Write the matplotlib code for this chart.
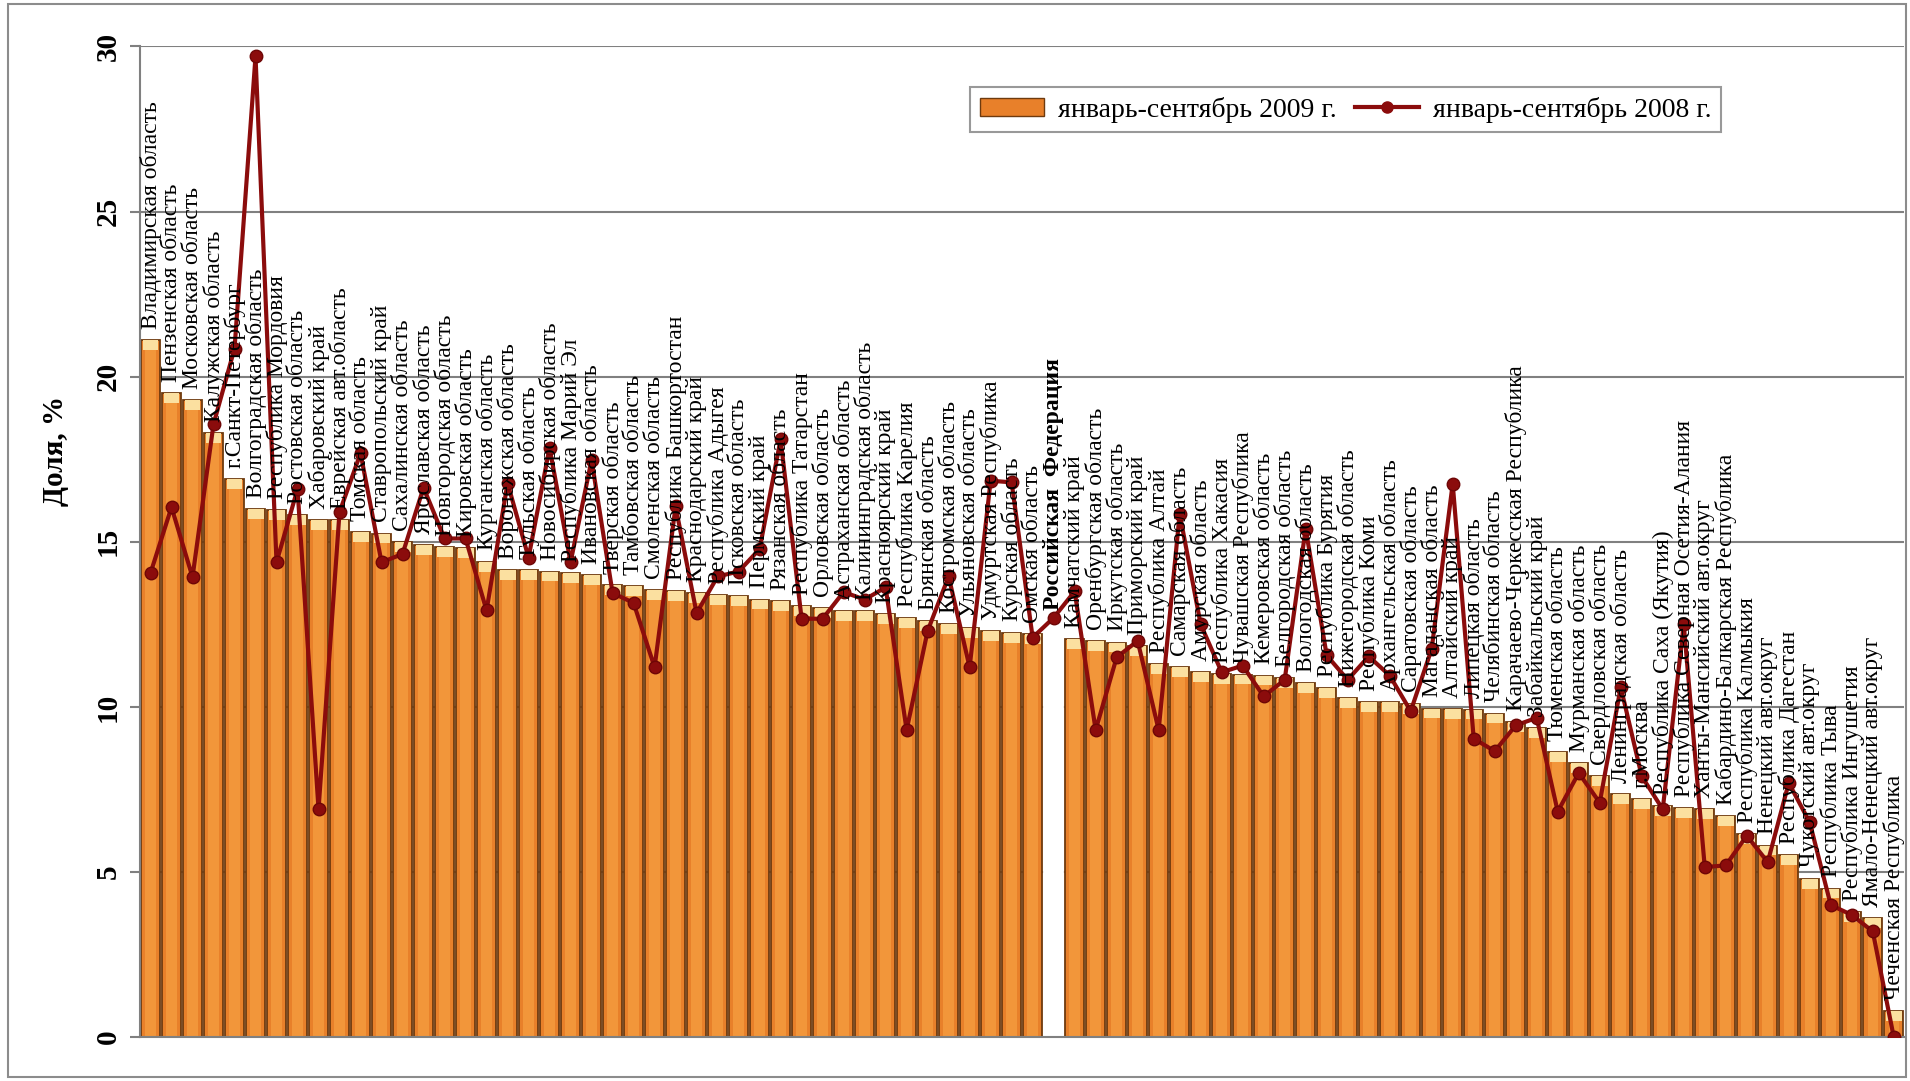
import numpy as np
import matplotlib
matplotlib.use('Agg')
import matplotlib.pyplot as plt
from matplotlib.patches import Rectangle
from matplotlib.lines import Line2D

plt.rcParams['font.family'] = ['Liberation Serif', 'DejaVu Serif']

regions = [
    'Владимирская область', 'Пензенская область', 'Московская область',
    'Калужская область', 'г.Санкт-Петербург', 'Волгоградская область',
    'Республика Мордовия', 'Ростовская область', 'Хабаровский край',
    'Еврейская авт.область', 'Томская область', 'Ставропольский край',
    'Сахалинская область', 'Ярославская область', 'Новгородская область',
    'Кировская область', 'Курганская область', 'Воронежская область',
    'Тульская область', 'Новосибирская область', 'Республика Марий Эл',
    'Ивановская область', 'Тверская область', 'Тамбовская область',
    'Смоленская область', 'Республика Башкортостан', 'Краснодарский край',
    'Республика Адыгея', 'Псковская область', 'Пермский край',
    'Рязанская область', 'Республика Татарстан', 'Орловская область',
    'Астраханская область', 'Калининградская область', 'Красноярский край',
    'Республика Карелия', 'Брянская область', 'Костромская область',
    'Ульяновская область', 'Удмуртская Республика', 'Курская область',
    'Омская область', 'Российская  Федерация', 'Камчатский край',
    'Оренбургская область', 'Иркутская область', 'Приморский край',
    'Республика Алтай', 'Самарская область', 'Амурская область',
    'Республика Хакасия', 'Чувашская Республика', 'Кемеровская область',
    'Белгородская область', 'Вологодская область', 'Республика Бурятия',
    'Нижегородская область', 'Республика Коми', 'Архангельская область',
    'Саратовская область', 'Магаданская область', 'Алтайский край',
    'Липецкая область', 'Челябинская область',
    'Карачаево-Черкесская Республика', 'Забайкальский край',
    'Тюменская область', 'Мурманская область', 'Свердловская область',
    'Ленинградская область', 'г.Москва', 'Республика Саха (Якутия)',
    'Республика Северная Осетия-Алания', 'Ханты-Мансийский авт.округ',
    'Кабардино-Балкарская Республика', 'Республика Калмыкия',
    'Ненецкий авт.округ', 'Республика Дагестан', 'Чукотский авт.округ',
    'Республика Тыва', 'Республика Ингушетия', 'Ямало-Ненецкий авт.округ',
    'Чеченская Республика',
]

# январь-сентябрь 2009 г.
share_2009 = [
    21.1, 19.5, 19.3, 18.3, 16.9, 16.0, 15.95, 15.8, 15.65, 15.65,
    15.3, 15.25, 15.0, 14.9, 14.85, 14.8, 14.4, 14.15, 14.15, 14.1,
    14.05, 14.0, 13.7, 13.65, 13.55, 13.5, 13.45, 13.4, 13.35, 13.25,
    13.2, 13.05, 13.0, 12.9, 12.9, 12.8, 12.7, 12.6, 12.5, 12.4,
    12.3, 12.25, 12.2, 12.6, 12.05, 12.0, 11.95, 11.85, 11.3, 11.2,
    11.05, 11.0, 10.98, 10.95, 10.88, 10.73, 10.57, 10.27, 10.15, 10.15,
    10.1, 9.95, 9.94, 9.92, 9.8, 9.55, 9.35, 8.63, 8.3, 7.9,
    7.35, 7.2, 7.0, 6.95, 6.9, 6.7, 6.15, 5.8, 5.5, 4.8,
    4.5, 3.8, 3.6, 0.8,
]

# январь-сентябрь 2008 г.
share_2008 = [
    14.05, 16.05, 13.93, 18.56, 20.85, 29.7, 14.38, 16.6, 6.9, 15.9,
    17.68, 14.38, 14.63, 16.64, 15.1, 15.1, 12.92, 16.78, 14.52, 17.85,
    14.38, 17.48, 13.45, 13.15, 11.2, 16.07, 12.84, 13.95, 14.1, 14.78,
    18.1, 12.67, 12.67, 13.48, 13.25, 13.62, 9.3, 12.3, 13.95, 11.2,
    16.85, 16.8, 12.1, 12.7, 13.5, 9.3, 11.5, 12.0, 9.3, 15.85,
    12.5, 11.05, 11.25, 10.32, 10.82, 15.4, 11.56, 10.82, 11.53, 10.95,
    9.87, 11.76, 16.76, 9.04, 8.66, 9.44, 9.67, 6.83, 8.0, 7.1,
    10.6, 7.9, 6.9, 12.5, 5.15, 5.2, 6.1, 5.3, 7.7, 6.5,
    4.0, 3.7, 3.2, 0.0,
]

total_name = 'Российская  Федерация'

fig = plt.figure(figsize=(19.1, 10.81), dpi=100)
fig.patches.append(Rectangle((0.004, 0.004), 0.994, 0.992, transform=fig.transFigure,
                             fill=False, edgecolor='#8c8c8c', linewidth=1.5))
ax = fig.add_axes([0.0733, 0.0406, 0.9237, 0.9164])

x = np.arange(len(regions))
is_total = np.array([r == total_name for r in regions])
v09 = np.array(share_2009)

face = np.where(is_total, 'white', '#E8802A')
edge = np.where(is_total, 'white', '#6E3A0E')
ax.bar(x, v09, width=0.92, color=face, edgecolor=edge, linewidth=1.3, zorder=2)
# lighter middle and pale top to imitate the bevel
ax.bar(x[~is_total], v09[~is_total] - 0.3, width=0.5, color='#F2963A',
       linewidth=0, zorder=2.2)
cap = 0.3
ax.bar(x[~is_total], cap, bottom=v09[~is_total] - cap, width=0.76,
       color='#FBE0A0', linewidth=0, zorder=2.4)

ax.plot(x, share_2008, color='#8B0C0C', lw=3, marker='o', ms=9,
        markerfacecolor='#8B0C0C', markeredgecolor='#6E0606', zorder=3)

for i, (name, v) in enumerate(zip(regions, share_2009)):
    ax.annotate(name, (i, v), xytext=(0, 8), textcoords='offset points',
                rotation=90, ha='center', va='bottom', fontsize=17,
                fontweight='bold' if name == total_name else 'normal',
                zorder=4)

ax.set_xlim(-0.5, len(regions) - 0.5)
ax.set_ylim(0, 30)
ax.set_xticks([])
ax.set_yticks(range(0, 31, 5))
ax.set_yticklabels([str(t) for t in range(0, 31, 5)], rotation=90, va='center',
                   fontsize=21, fontweight='bold')
ax.tick_params(axis='y', length=7, color='#808080', width=1.5, pad=6)
ax.set_axisbelow(True)
ax.yaxis.grid(True, color='#808080', lw=1.5)
for s in ['top', 'right']:
    ax.spines[s].set_visible(False)
for s in ['left', 'bottom']:
    ax.spines[s].set_color('#808080')
    ax.spines[s].set_linewidth(1.5)

fig.text(0.029, 0.583, 'Доля, %', rotation=90, ha='center', va='center',
         fontsize=21, fontweight='bold')

handles = [
    Rectangle((0, 0), 1, 1, facecolor='#E8802A', edgecolor='#6E3A0E'),
    Line2D([], [], color='#8B0C0C', lw=3, marker='o', ms=8),
]
leg = fig.legend(handles, ['январь-сентябрь 2009 г.', 'январь-сентябрь 2008 г.'],
                 loc='center', bbox_to_anchor=(0.508, 0.874, 0.393, 0.049),
                 mode='expand', ncol=2, fontsize=20, frameon=True, fancybox=False,
                 edgecolor='#808080', handlelength=2.3, handleheight=0.6,
                 handletextpad=0.5, borderpad=0.35, borderaxespad=0)
leg.get_frame().set_linewidth(1.5)

fig.savefig('out.png', dpi=100)
